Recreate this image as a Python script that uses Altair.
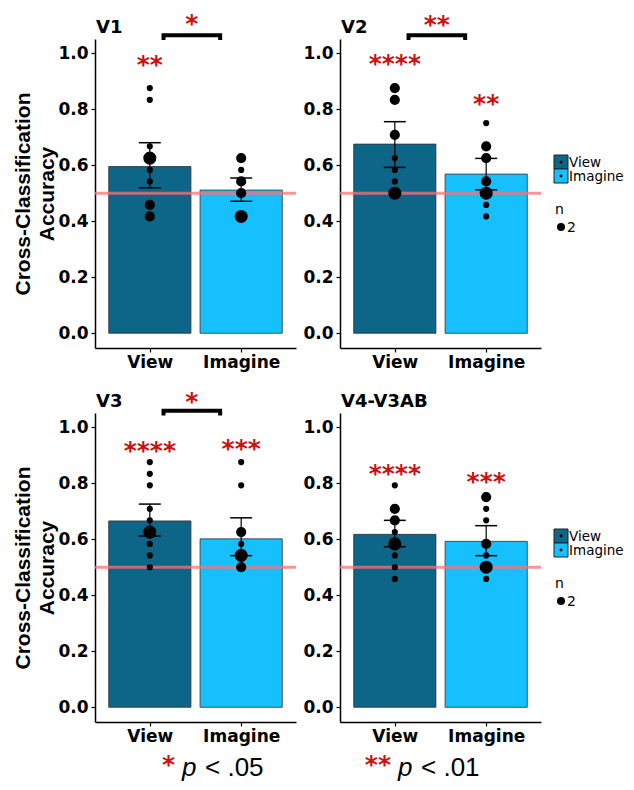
import altair as alt
import pandas as pd

# ---------------- data ----------------
rois = ["V1", "V2", "V3", "V4-V3AB"]
conditions = ["View", "Imagine"]
bar_colors = ["#0D6587", "#16C0FC"]
sig_red = "#CC1111"

mean_acc = {"V1": [0.595, 0.511], "V2": [0.675, 0.568],
            "V3": [0.665, 0.601], "V4-V3AB": [0.617, 0.592]}
err_low = {"V1": [0.519, 0.471], "V2": [0.592, 0.512],
           "V3": [0.611, 0.541], "V4-V3AB": [0.573, 0.541]}
err_high = {"V1": [0.680, 0.554], "V2": [0.755, 0.624],
            "V3": [0.725, 0.676], "V4-V3AB": [0.667, 0.648]}

# subject accuracies (value, count n) per ROI and condition
pts_acc = {
    ("V1", "View"): [0.875, 0.833, 0.667, 0.625, 0.583, 0.542, 0.458, 0.417],
    ("V1", "Imagine"): [0.625, 0.583, 0.542, 0.500, 0.417],
    ("V2", "View"): [0.875, 0.833, 0.708, 0.625, 0.583, 0.542, 0.500],
    ("V2", "Imagine"): [0.750, 0.667, 0.625, 0.542, 0.500, 0.458, 0.417],
    ("V3", "View"): [0.875, 0.833, 0.792, 0.708, 0.667, 0.625, 0.583, 0.542, 0.500],
    ("V3", "Imagine"): [0.875, 0.792, 0.625, 0.583, 0.542, 0.500],
    ("V4-V3AB", "View"): [0.792, 0.708, 0.667, 0.625, 0.583, 0.542, 0.500, 0.458],
    ("V4-V3AB", "Imagine"): [0.750, 0.708, 0.667, 0.583, 0.542, 0.500, 0.458],
}
pts_n = {
    ("V1", "View"): [1, 1, 1, 3, 1, 1, 2, 2],
    ("V1", "Imagine"): [2, 1, 2, 2, 3],
    ("V2", "View"): [2, 2, 2, 1, 1, 1, 3],
    ("V2", "Imagine"): [1, 2, 2, 2, 3, 1, 1],
    ("V3", "View"): [1, 1, 1, 1, 1, 3, 1, 1, 1],
    ("V3", "Imagine"): [1, 1, 2, 1, 3, 2],
    ("V4-V3AB", "View"): [1, 2, 2, 1, 3, 1, 1, 1],
    ("V4-V3AB", "Imagine"): [2, 1, 1, 2, 1, 3, 1],
}

# significance vs chance (stars above each bar) and View-vs-Imagine bracket
star_text = {"V1": ["**", ""], "V2": ["****", "**"],
             "V3": ["****", "***"], "V4-V3AB": ["****", "***"]}
star_y = {"V1": [0.98, 0.0], "V2": [0.982, 0.84],
          "V3": [0.935, 0.943], "V4-V3AB": [0.854, 0.824]}
bracket_text = {"V1": "*", "V2": "**", "V3": "*", "V4-V3AB": ""}
bracket_level = {"V1": 1.063, "V2": 1.063, "V3": 1.058, "V4-V3AB": 1.058}
bracket_star_y = {"V1": 1.125, "V2": 1.12, "V3": 1.112, "V4-V3AB": 1.112}

chance = 0.5
y_ticks = [0.0, 0.2, 0.4, 0.6, 0.8, 1.0]
legend_n = [2]

footer_stars = ["*", "**"]
footer_thresholds = ["< .05", "< .01"]

# ---------------- helpers ----------------
X_SCALE = alt.Scale(domain=[0.4, 2.6], nice=False, zero=False)
Y_SCALE = alt.Scale(domain=[-0.0525, 1.05], nice=False, zero=False)
C_SCALE = alt.Scale(domain=conditions, range=bar_colors)
S_SCALE = alt.Scale(domain=[1, 3], range=[38, 170])
X_AXIS = alt.Axis(values=[1, 2],
                  labelExpr=f"datum.value == 1 ? '{conditions[0]}' : '{conditions[1]}'",
                  title=None, tickSize=4, labelPadding=2)
PW, PH = 201, 309


def y_axis(left):
    if left:
        return alt.Axis(values=y_ticks, format=".1f",
                        title=["Cross-Classification", "Accuracy"])
    return alt.Axis(values=y_ticks, format=".1f", title=None)


def legend_layers(bars):
    out = []
    for i, c in enumerate(conditions):
        src = alt.Chart(bars).transform_filter(alt.datum.cond == c)
        top = 116 + 14 * i
        out.append(src.mark_rect(stroke="#222222", strokeWidth=1).encode(
            x=alt.value(PW + 13), x2=alt.value(PW + 27),
            y=alt.value(top), y2=alt.value(top + 14),
            color=alt.Color("cond:N", scale=C_SCALE, legend=None)))
        out.append(src.mark_circle(color="black", opacity=1, size=8).encode(
            x=alt.value(PW + 20), y=alt.value(top + 7)))
        out.append(src.mark_text(font="DejaVu Sans", fontSize=13.5, color="black",
                                 align="left", baseline="alphabetic").encode(
            x=alt.value(PW + 28), y=alt.value(top + 12), text="cond:N"))
    nd = alt.Chart(pd.DataFrame({"n": legend_n, "title": ["n"]}))
    out.append(nd.mark_text(font="DejaVu Sans", fontSize=14, color="black",
                            align="left", baseline="alphabetic").encode(
        x=alt.value(PW + 14), y=alt.value(175), text="title:N"))
    out.append(nd.mark_circle(color="black", opacity=1, size=64).encode(
        x=alt.value(PW + 20), y=alt.value(188)))
    out.append(nd.mark_text(font="DejaVu Sans", fontSize=14, color="black",
                            align="left", baseline="alphabetic").encode(
        x=alt.value(PW + 26), y=alt.value(193), text="n:N"))
    return out


def panel(roi, left, legend):
    pos = {c: i + 1 for i, c in enumerate(conditions)}
    bars = pd.DataFrame({
        "cond": conditions,
        "pos": [pos[c] for c in conditions],
        "mean": mean_acc[roi],
        "lo": err_low[roi],
        "hi": err_high[roi],
        "zero": [0.0, 0.0],
        "star": star_text[roi],
        "stary": star_y[roi],
    })
    pts = pd.DataFrame([
        {"cond": c, "pos": pos[c], "acc": a, "n": n}
        for c in conditions
        for a, n in zip(pts_acc[(roi, c)], pts_n[(roi, c)])
    ])
    yax = y_axis(left)

    base = alt.Chart(bars)
    bar_layer = base.transform_calculate(
        x0="datum.pos - 0.45", x1="datum.pos + 0.45"
    ).mark_bar(stroke="#333333", strokeWidth=0.8).encode(
        x=alt.X("x0:Q", scale=X_SCALE, axis=X_AXIS),
        x2="x1:Q",
        y=alt.Y("mean:Q", scale=Y_SCALE, axis=yax),
        y2="zero:Q",
        color=alt.Color("cond:N", scale=C_SCALE, legend=None),
    )
    chance_line = alt.Chart(pd.DataFrame({"c": [chance]})).mark_rule(
        color="#FF7070", strokeWidth=3, opacity=0.75
    ).encode(y=alt.Y("c:Q", scale=Y_SCALE, axis=yax))
    point_layer = alt.Chart(pts).mark_circle(color="black", opacity=1).encode(
        x=alt.X("pos:Q", scale=X_SCALE, axis=X_AXIS),
        y=alt.Y("acc:Q", scale=Y_SCALE, axis=yax),
        size=alt.Size("n:Q", scale=S_SCALE, legend=None),
    )
    err_v = base.mark_rule(color="black", strokeWidth=1.2).encode(
        x=alt.X("pos:Q", scale=X_SCALE, axis=X_AXIS),
        y=alt.Y("lo:Q", scale=Y_SCALE, axis=yax),
        y2="hi:Q",
    )
    caps = base.transform_calculate(
        cl="datum.pos - 0.12", cr="datum.pos + 0.12"
    ).transform_fold(["lo", "hi"], as_=["which", "yv"]).mark_rule(
        color="black", strokeWidth=1.5
    ).encode(
        x=alt.X("cl:Q", scale=X_SCALE, axis=X_AXIS),
        x2="cr:Q",
        y=alt.Y("yv:Q", scale=Y_SCALE, axis=yax),
    )
    stars = base.mark_text(font="DejaVu Sans", fontWeight="bold", fontSize=25,
                           color=sig_red, baseline="alphabetic", dy=14).encode(
        x=alt.X("pos:Q", scale=X_SCALE, axis=X_AXIS),
        y=alt.Y("stary:Q", scale=Y_SCALE, axis=yax),
        text="star:N",
    )
    title = alt.Chart(pd.DataFrame({"roi": [roi]})).mark_text(
        font="DejaVu Sans", fontWeight="bold", fontSize=18, color="black",
        align="left", baseline="alphabetic"
    ).encode(x=alt.value(1), y=alt.value(-6), text="roi:N")
    layers = [bar_layer, chance_line, point_layer, err_v, caps, stars, title]

    lvl = bracket_level[roi]
    xl, xr = pos[conditions[0]] + 0.15, pos[conditions[1]] - 0.23
    br_star = pd.DataFrame({"t": [bracket_text[roi] or "*"], "x": [(xl + xr) / 2],
                            "y": [bracket_star_y[roi]]})
    if bracket_text[roi]:
        br = pd.DataFrame({"x": [xl, xl, xr, xr],
                           "y": [lvl - 0.017, lvl, lvl, lvl - 0.017],
                           "o": [0, 1, 2, 3]})
        layers.append(alt.Chart(br).mark_line(color="black", strokeWidth=4).encode(
            x=alt.X("x:Q", scale=X_SCALE, axis=X_AXIS),
            y=alt.Y("y:Q", scale=Y_SCALE, axis=yax),
            order="o:Q",
        ))
    layers.append(alt.Chart(br_star).mark_text(
        font="DejaVu Sans", fontWeight="bold", fontSize=25, color=sig_red,
        baseline="alphabetic", dy=14, opacity=1 if bracket_text[roi] else 0
    ).encode(
        x=alt.X("x:Q", scale=X_SCALE, axis=X_AXIS),
        y=alt.Y("y:Q", scale=Y_SCALE, axis=yax),
        text="t:N",
    ))
    if legend:
        layers += legend_layers(bars)

    return alt.layer(*layers).properties(width=PW, height=PH)


row1 = alt.hconcat(panel("V1", True, False), panel("V2", False, True), spacing=4)
row2 = alt.hconcat(panel("V3", True, False), panel("V4-V3AB", False, True), spacing=4)

# footer note (positions relative to the left panel's plot origin)
foot_layers = []
foot_x = [80, 296]
for i, (s, t) in enumerate(zip(footer_stars, footer_thresholds)):
    d = alt.Chart(pd.DataFrame({"star": [s], "p": ["p"], "thr": [t]}))
    x0 = foot_x[i]
    foot_layers.append(d.mark_text(align="right", baseline="alphabetic", font="DejaVu Sans",
                                   fontWeight="bold", fontSize=25, color=sig_red).encode(
        x=alt.value(x0), y=alt.value(18), text="star:N"))
    foot_layers.append(d.mark_text(align="left", baseline="alphabetic", font="Liberation Sans",
                                   fontStyle="italic", fontSize=26, color="black").encode(
        x=alt.value(x0 + 7), y=alt.value(21), text="p:N"))
    foot_layers.append(d.mark_text(align="left", baseline="alphabetic", font="Liberation Sans",
                                   fontSize=26, color="black").encode(
        x=alt.value(x0 + 30), y=alt.value(21), text="thr:N"))
footer = alt.layer(*foot_layers).properties(width=400, height=22)

chart = alt.vconcat(row1, row2, spacing=18)
chart = alt.vconcat(chart, footer, spacing=7) \
    .configure(padding={"left": 4, "top": 3, "right": 0, "bottom": 0}, background="white") \
    .configure_view(stroke="transparent") \
    .configure_axis(domainColor="black", domainWidth=1.5, tickColor="black", tickWidth=1.2,
                    tickSize=4, labelColor="black", labelFont="DejaVu Sans",
                    labelFontWeight="bold", labelFontSize=17, grid=False, labelPadding=3,
                    titleFont="Liberation Sans", titleFontSize=21, titleFontWeight="bold",
                    titleColor="black", titleLineHeight=24, titlePadding=0)

chart.save("out.html", embed_options={"renderer": "svg", "actions": False})
